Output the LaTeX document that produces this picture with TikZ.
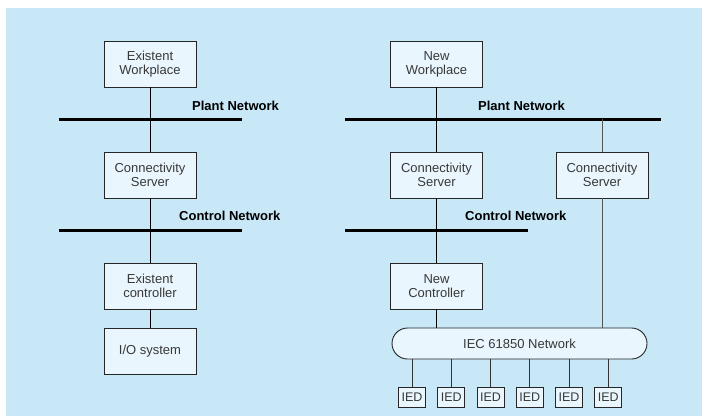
\documentclass[tikz,border=0pt]{standalone}
\usepackage{fontspec}
\setsansfont{Liberation Sans}
\usepackage{xcolor}
\definecolor{bgblue}{HTML}{C8E7F7}
\definecolor{boxfill}{HTML}{E9F6FD}
\definecolor{txtgray}{HTML}{383838}
\definecolor{linegray}{HTML}{555555}

\begin{document}
\begin{tikzpicture}[x=1pt,y=-1pt,
    unit/.style={draw=black!85,fill=boxfill,line width=0.9pt,minimum width=92pt,minimum height=46pt,
        inner sep=0pt,align=center,text=txtgray,font=\sffamily\fontsize{13}{14}\selectfont},
    ied/.style={draw=black!85,fill=boxfill,line width=0.9pt,minimum width=27pt,minimum height=20pt,
        inner sep=0pt,text=txtgray,font=\sffamily\fontsize{12.5}{14}\selectfont},
    bus/.style={line width=3pt},
    link/.style={line width=0.9pt},
    netlabel/.style={anchor=west,inner sep=0pt,font=\sffamily\bfseries\fontsize{13}{14}\selectfont}]
    \useasboundingbox (0,0) rectangle (702,416);
    \fill[bgblue] (6,8) rectangle (702,416);

    % existing system
    \node[unit] (ewp) at (150,64) {Existent\\Workplace};
    \node[unit] (cs1) at (150,175) {Connectivity\\Server};
    \node[unit] (ectl) at (150,286) {Existent\\controller};
    \node[unit] (io) at (150,351) {I/O system};

    \coordinate (pl1) at (59,119);
    \coordinate (pl2) at (242,119);
    \coordinate (cl1) at (59,230);
    \coordinate (cl2) at (242,230);
    \draw[bus] (pl1) -- (pl2);
    \draw[bus] (cl1) -- (cl2);
    \node[netlabel] (plantL) at (192,106) {Plant Network};
    \node[netlabel] (ctrlL) at (179,216) {Control Network};

    \draw[link] (ewp) -- (cs1);
    \draw[link] (cs1) -- (ectl);
    \draw[link] (ectl) -- (io);

    % new system
    \node[unit] (nwp) at (436.5,64) {New\\Workplace};
    \node[unit] (cs2) at (436.5,175) {Connectivity\\Server};
    \node[unit] (cs3) at (602,175) {Connectivity\\Server};
    \node[unit] (nctl) at (436.5,286) {New\\Controller};
    \node[draw=black!85,fill=boxfill,line width=0.9pt,rounded corners=15.5pt,minimum width=255pt,
        minimum height=31pt,inner sep=0pt,text=txtgray,font=\sffamily\fontsize{13}{14}\selectfont]
        (iec) at (519.5,343.5) {IEC 61850 Network};

    \coordinate (pr1) at (345,119);
    \coordinate (pr2) at (661,119);
    \coordinate (cr1) at (345,230);
    \coordinate (cr2) at (528,230);
    \draw[bus] (pr1) -- (pr2);
    \draw[bus] (cr1) -- (cr2);
    \node[netlabel] (plantR) at (478,106) {Plant Network};
    \node[netlabel] (ctrlR) at (465,216) {Control Network};

    \draw[link] (nwp) -- (cs2);
    \draw[link] (cs2) -- (nctl);
    \draw[link] (nctl) -- (nctl.south |- iec.north);
    \draw[link,linegray] (cs3.north) -- (cs3.north |- pr2);
    \draw[link,linegray] (cs3.south) -- (cs3.south |- iec.north);

    \foreach \i in {1,...,6}{
        \node[ied] (ied\i) at ({412+39.25*(\i-1)},397) {IED};
        \draw[link,black!80] (ied\i.north) -- (ied\i.north |- iec.south);
    }
\end{tikzpicture}
\end{document}
